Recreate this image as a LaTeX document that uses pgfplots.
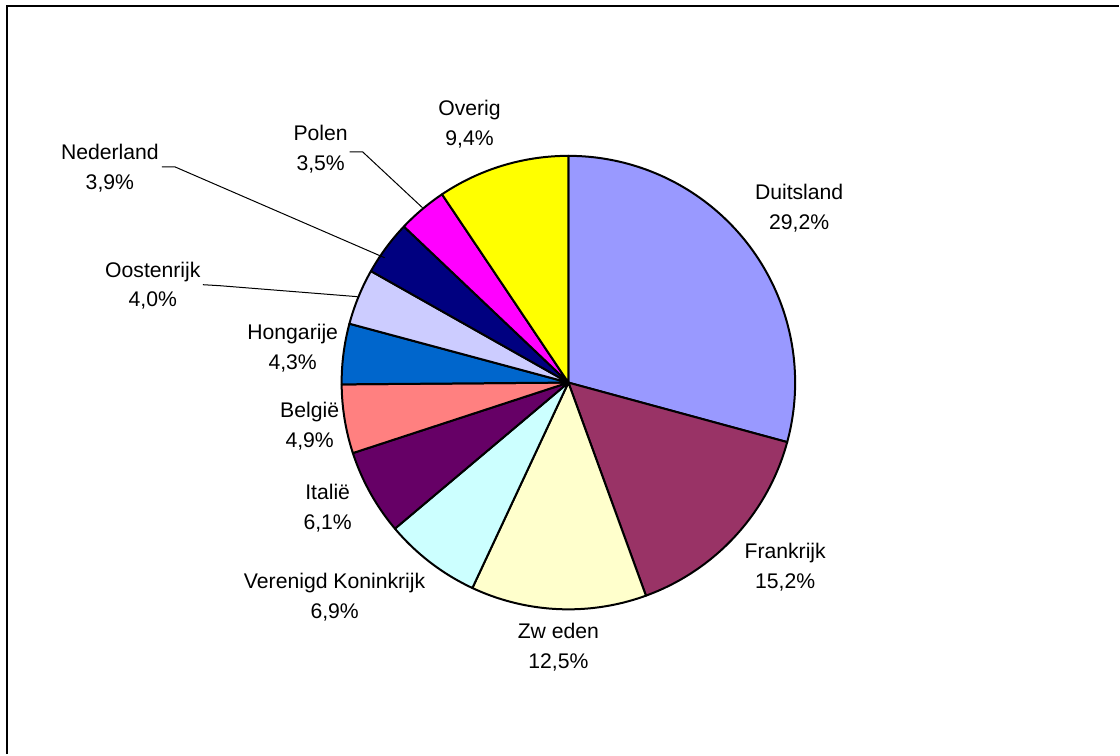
\documentclass[border=0pt]{standalone}
\usepackage{pgfplots}
\pgfplotsset{compat=1.18}
\usepackage{fontspec}
\setmainfont{Liberation Sans}
\definecolor{cDuits}{HTML}{9999FF}
\definecolor{cFrank}{HTML}{993366}
\definecolor{cZwed}{HTML}{FFFFCC}
\definecolor{cVK}{HTML}{CCFFFF}
\definecolor{cItal}{HTML}{660066}
\definecolor{cBelg}{HTML}{FF8080}
\definecolor{cHong}{HTML}{0066CC}
\definecolor{cOost}{HTML}{CCCCFF}
\definecolor{cNed}{HTML}{000080}
\definecolor{cPol}{HTML}{FF00FF}
\definecolor{cOver}{HTML}{FFFF00}
\tikzset{lbl/.style={font=\fontsize{10.6}{15}\selectfont, align=center, text=black, inner sep=0pt}}
% #1 = cumulative share before the slice, #2 = share of the slice, #3 = colour
\newcommand\slice[3]{%
  \addplot[fill=#3, draw=black, line width=1pt, line join=round, samples=90, variable=\t,
    domain={(#1)*360/99.9}:{(#1+#2)*360/99.9}]
    ({569+227*sin(\t)},{372+227*cos(\t)}) -- (axis cs:569,372) -- cycle;}
\begin{document}
\begin{tikzpicture}
\begin{axis}[
  width=560pt, height=377.5pt, scale only axis,
  xmin=0, xmax=1120, ymin=0, ymax=755,
  hide axis, clip=false,
]
\path (axis cs:0,0) rectangle (axis cs:1120,755);
\draw[line width=1.2pt] (axis cs:7,0) -- (axis cs:7,749) -- (axis cs:1120,749);
\slice{0}{29.2}{cDuits}
\slice{29.2}{15.2}{cFrank}
\slice{44.4}{12.5}{cZwed}
\slice{56.9}{6.9}{cVK}
\slice{63.8}{6.1}{cItal}
\slice{69.9}{4.9}{cBelg}
\slice{74.8}{4.3}{cHong}
\slice{79.1}{4.0}{cOost}
\slice{83.1}{3.9}{cNed}
\slice{87.0}{3.5}{cPol}
\slice{90.5}{9.4}{cOver}
% leader lines
\draw[line width=0.5pt] (axis cs:162,588) -- (axis cs:175,588) -- (axis cs:385,497);
\draw[line width=0.5pt] (axis cs:203,470) -- (axis cs:220,469) -- (axis cs:358,458);
\draw[line width=0.5pt] (axis cs:350,603) -- (axis cs:363,603) -- (axis cs:423,547);
% labels
\node[lbl] at (axis cs:800,547) {Duitsland\\29,2\%};
\node[lbl] at (axis cs:786,187) {Frankrijk\\15,2\%};
\node[lbl] at (axis cs:559,107) {Zw eden\\12,5\%};
\node[lbl] at (axis cs:335,157) {Verenigd Koninkrijk\\6,9\%};
\node[lbl] at (axis cs:328,246) {Italië\\6,1\%};
\node[lbl] at (axis cs:310,328) {België\\4,9\%};
\node[lbl] at (axis cs:293,406) {Hongarije\\4,3\%};
\node[lbl] at (axis cs:153,469) {Oostenrijk\\4,0\%};
\node[lbl] at (axis cs:110,587) {Nederland\\3,9\%};
\node[lbl] at (axis cs:321,606) {Polen\\3,5\%};
\node[lbl] at (axis cs:470,631) {Overig\\9,4\%};
\end{axis}
\end{tikzpicture}
\end{document}
